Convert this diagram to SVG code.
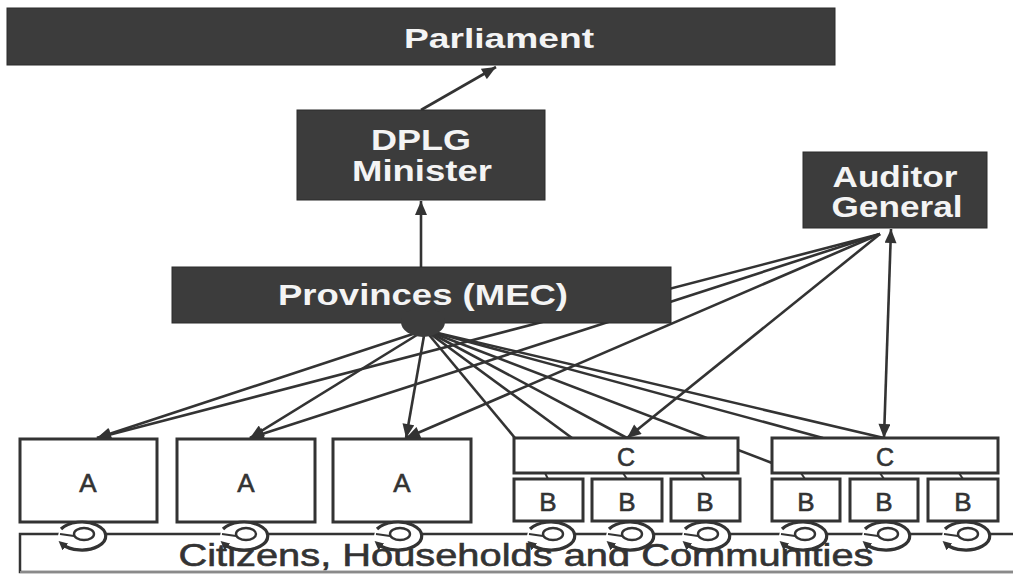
<svg xmlns="http://www.w3.org/2000/svg" width="1013" height="575" viewBox="0 0 1013 575">
  <defs>
    <style>
      .dark { fill: #3c3c3c; stroke: #2b2b2b; stroke-width: 1; }
      .box { fill: #ffffff; stroke: #333333; stroke-width: 3; }
      .wire { stroke: #333333; stroke-width: 2.6; fill: none; }
      .head { font-family: "Liberation Sans", Arial, sans-serif; font-weight: bold; fill: #f4f4f4; text-anchor: middle; }
      .lbl { font-family: "Liberation Sans", Arial, sans-serif; fill: #333333; stroke: #333333; stroke-width: 0.6; text-anchor: middle; }
      .ring { fill: none; stroke: #333333; stroke-width: 3.2; }
    </style>
    <marker id="arrow" viewBox="0 0 14 12" refX="14" refY="6" markerWidth="15" markerHeight="12" markerUnits="userSpaceOnUse" orient="auto-start-reverse">
      <path d="M0,0 L14,6 L0,12 z" fill="#333333"/>
    </marker>
    <marker id="tip" viewBox="0 0 8 8" refX="4" refY="4" markerWidth="9" markerHeight="9" markerUnits="userSpaceOnUse" orient="auto">
      <path d="M0,0 L8,4 L0,8 z" fill="#333333"/>
    </marker>
    <!-- circular feedback symbol, centred on (0,0) -->
    <g id="cycle">
      <ellipse cx="0" cy="0" rx="24" ry="14" fill="#ffffff"/>
      <path class="ring" d="M-21,-7 A24 14 0 1 1 -20,8" marker-end="url(#tip)"/>
      <ellipse cx="2" cy="-2" rx="10" ry="6" fill="none" stroke="#333333" stroke-width="2.4"/>
      <line x1="-22" y1="-2" x2="-8" y2="0" stroke="#333333" stroke-width="2"/>
    </g>
  </defs>

  <rect width="1013" height="575" fill="#ffffff"/>

  <!-- connectors -->
  <g id="connectors">
    <!-- upward reporting line -->
    <line class="wire" x1="421" y1="110" x2="496" y2="67" marker-end="url(#arrow)"/>
    <line class="wire" x1="421" y1="267" x2="421" y2="201" marker-end="url(#arrow)"/>

    <!-- Provinces (MEC) to municipalities -->
    <line class="wire" x1="425" y1="330" x2="97" y2="438" marker-end="url(#arrow)"/>
    <line class="wire" x1="425" y1="330" x2="250" y2="438" marker-end="url(#arrow)"/>
    <line class="wire" x1="425" y1="330" x2="406" y2="438" marker-end="url(#arrow)"/>
    <line class="wire" x1="425" y1="330" x2="515" y2="438"/>
    <line class="wire" x1="425" y1="330" x2="572" y2="438"/>
    <line class="wire" x1="425" y1="330" x2="627" y2="438"/>
    <line class="wire" x1="425" y1="330" x2="772" y2="463"/>
    <line class="wire" x1="425" y1="330" x2="823" y2="438"/>
    <line class="wire" x1="425" y1="330" x2="884" y2="438"/>

    <!-- Auditor General to municipalities -->
    <line class="wire" x1="880" y1="234" x2="97" y2="438" marker-end="url(#arrow)"/>
    <line class="wire" x1="880" y1="234" x2="250" y2="438" marker-end="url(#arrow)"/>
    <line class="wire" x1="880" y1="234" x2="406" y2="438" marker-end="url(#arrow)"/>
    <line class="wire" x1="880" y1="234" x2="627" y2="438" marker-end="url(#arrow)"/>
    <line class="wire" x1="891" y1="229" x2="884" y2="438" marker-start="url(#arrow)" marker-end="url(#arrow)"/>

    <!-- C to B links -->
    <g stroke="#333333" stroke-width="2">
      <line x1="545" y1="473" x2="548" y2="479"/>
      <line x1="623" y1="473" x2="627" y2="479"/>
      <line x1="701" y1="473" x2="705" y2="479"/>
      <line x1="801" y1="473" x2="805" y2="479"/>
      <line x1="880" y1="473" x2="884" y2="479"/>
      <line x1="959" y1="473" x2="963" y2="479"/>
    </g>
  </g>

  <g id="parliament">
    <rect class="dark" x="7" y="8" width="828" height="57"/>
    <text class="head" x="499" y="48" font-size="28" textLength="190" lengthAdjust="spacingAndGlyphs">Parliament</text>
  </g>

  <g id="dplg-minister">
    <rect class="dark" x="297" y="110" width="248" height="90"/>
    <text class="head" x="421" y="150" font-size="30" textLength="100" lengthAdjust="spacingAndGlyphs">DPLG</text>
    <text class="head" x="422" y="181" font-size="30" textLength="140" lengthAdjust="spacingAndGlyphs">Minister</text>
  </g>

  <g id="auditor-general">
    <rect class="dark" x="803" y="152" width="184" height="76"/>
    <text class="head" x="895" y="187" font-size="29" textLength="125" lengthAdjust="spacingAndGlyphs">Auditor</text>
    <text class="head" x="897" y="217" font-size="29" textLength="131" lengthAdjust="spacingAndGlyphs">General</text>
  </g>

  <g id="provinces">
    <rect class="dark" x="172" y="267" width="499" height="56"/>
    <ellipse cx="423" cy="322" rx="22" ry="15" fill="#3c3c3c"/>
    <text class="head" x="423" y="305" font-size="30" textLength="290" lengthAdjust="spacingAndGlyphs">Provinces (MEC)</text>
  </g>

  <g id="citizens">
    <rect x="20" y="534" width="1010" height="38" fill="#ffffff" stroke="#333333" stroke-width="2.5"/>
    <line x1="20" y1="572" x2="1013" y2="572" stroke="#8a8a8a" stroke-width="2"/>
    <text class="lbl" x="526" y="566" font-size="32" textLength="695" lengthAdjust="spacingAndGlyphs">Citizens, Households  and Communities</text>
  </g>

  <g id="municipality-a1">
    <rect class="box" x="20" y="439" width="137" height="83"/>
    <text class="lbl" x="88" y="492" font-size="26">A</text>
  </g>
  <g id="municipality-a2">
    <rect class="box" x="177" y="439" width="138" height="83"/>
    <text class="lbl" x="246" y="492" font-size="26">A</text>
  </g>
  <g id="municipality-a3">
    <rect class="box" x="333" y="439" width="138" height="83"/>
    <text class="lbl" x="402" y="492" font-size="26">A</text>
  </g>

  <g id="district-c1">
    <rect class="box" x="514" y="438" width="224" height="35"/>
    <text class="lbl" x="626" y="466" font-size="25">C</text>
  </g>
  <g id="district-c2">
    <rect class="box" x="772" y="438" width="226" height="35"/>
    <text class="lbl" x="885" y="466" font-size="25">C</text>
  </g>

  <g id="local-b1">
    <rect class="box" x="514" y="479" width="69" height="42"/>
    <text class="lbl" x="548" y="511" font-size="26">B</text>
  </g>
  <g id="local-b2">
    <rect class="box" x="592" y="479" width="70" height="42"/>
    <text class="lbl" x="627" y="511" font-size="26">B</text>
  </g>
  <g id="local-b3">
    <rect class="box" x="671" y="479" width="69" height="42"/>
    <text class="lbl" x="705" y="511" font-size="26">B</text>
  </g>
  <g id="local-b4">
    <rect class="box" x="772" y="479" width="68" height="42"/>
    <text class="lbl" x="806" y="511" font-size="26">B</text>
  </g>
  <g id="local-b5">
    <rect class="box" x="850" y="479" width="68" height="42"/>
    <text class="lbl" x="884" y="511" font-size="26">B</text>
  </g>
  <g id="local-b6">
    <rect class="box" x="928" y="479" width="70" height="42"/>
    <text class="lbl" x="963" y="511" font-size="26">B</text>
  </g>

  <!-- feedback cycles between municipalities and citizens -->
  <g id="cycles">
    <use href="#cycle" x="82" y="536"/>
    <use href="#cycle" x="244" y="536"/>
    <use href="#cycle" x="398" y="536"/>
    <use href="#cycle" x="551" y="536"/>
    <use href="#cycle" x="630" y="536"/>
    <use href="#cycle" x="706" y="536"/>
    <use href="#cycle" x="803" y="536"/>
    <use href="#cycle" x="886" y="536"/>
    <use href="#cycle" x="966" y="536"/>
  </g>
</svg>
